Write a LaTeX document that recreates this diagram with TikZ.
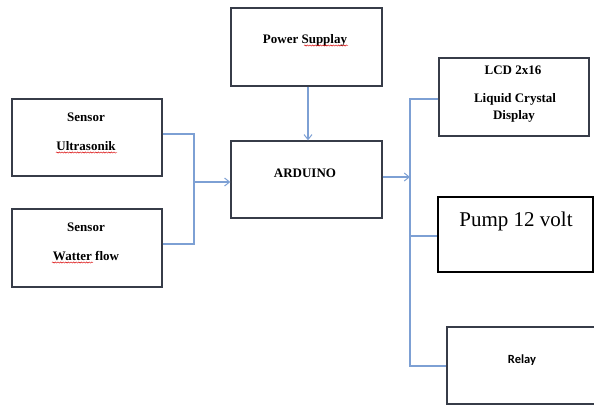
\documentclass[tikz,border=0pt]{standalone}
\usepackage{fontspec}
\setmainfont{Liberation Serif}
\newfontfamily\calfont{Carlito}
\usetikzlibrary{arrows.meta,decorations.pathmorphing}
\definecolor{connblue}{RGB}{125,160,212}
\definecolor{boxline}{RGB}{55,60,72}
\tikzset{
  blk/.style={draw=boxline, line width=1.3pt, fill=white, inner sep=0pt},
  conn/.style={draw=connblue, line width=1.1pt},
  arr/.style={conn, -{Straight Barb[length=5pt,width=8pt,line width=1pt]}},
  lbl/.style={font=\fontsize{13}{15}\selectfont\bfseries, inner sep=0pt},
  wave/.style={draw=red!85!black, line width=0.45pt, decorate, decoration={snake, amplitude=0.6pt, segment length=2.6pt}}
}
\begin{document}
\begin{tikzpicture}[x=1pt,y=-1pt]
\useasboundingbox (0,0) rectangle (594,405);
% boxes
\node[blk, minimum width=151pt, minimum height=78pt] (power) at (306.5,47) {};
\node[blk, minimum width=151pt, minimum height=77pt] (ard) at (306.5,179.5) {};
\node[blk, minimum width=150pt, minimum height=77pt] (ultra) at (87,137.5) {};
\node[blk, minimum width=150pt, minimum height=78pt] (water) at (87,248) {};
\node[blk, minimum width=150pt, minimum height=78pt] (lcd) at (514,97) {};
\node[blk, draw=black, line width=1.4pt, minimum width=155pt, minimum height=75pt] (pump) at (515.5,234.5) {};
\node[blk, minimum width=165pt, minimum height=77pt] (relay) at (529.5,365.5) {};
% texts
\node[lbl] (tpower) at (305,40) {Power Supplay};
\node[lbl] (tard) at (305,173) {ARDUINO};
\node[lbl] (tus1) at (86,117) {Sensor};
\node[lbl] (tus2) at (86,146) {Ultrasonik};
\node[lbl] (twf1) at (86,227) {Sensor};
\node[lbl] (twf2) at (86,256) {Watter flow};
\node[lbl] (tlcd1) at (513,70) {LCD 2x16};
\node[lbl] (tlcd2) at (515,99) {Liquid Crystal};
\node[lbl] (tlcd3) at (514,116) {Display};
\node[inner sep=0pt, font=\fontsize{21}{24}\selectfont] (tpump) at (516,221) {Pump 12 volt};
\node[inner sep=0pt, font=\calfont\fontsize{12.5}{14}\selectfont\bfseries] (trelay) at (522,360) {Relay};
% spell-check waves
\draw[wave] (56,152.5) -- (117,152.5);
\draw[wave] (52,262.5) -- (93,262.5);
\draw[wave] (304,45.5) -- (348,45.5);
% connectors left
\coordinate (jl) at (194,182);
\draw[conn] ([yshift=3.5pt]ultra.east) -| (jl);
\draw[conn] ([yshift=4pt]water.east) -| (jl);
\draw[arr] (jl) -- (jl -| ard.west);
% power to arduino
\draw[arr] ([xshift=1.5pt]power.south) -- ([xshift=1.5pt]ard.north);
% right bus
\coordinate (jr) at (410,177);
\coordinate (btop) at (410,99);
\coordinate (bpump) at (410,236);
\coordinate (bbot) at (410,366);
\draw[arr] (jr -| ard.east) -- (jr);
\draw[conn] (lcd.west |- btop) -- (btop) -- (bbot) -- (relay.west |- bbot);
\draw[conn] (bpump) -- (pump.west |- bpump);
\end{tikzpicture}
\end{document}
